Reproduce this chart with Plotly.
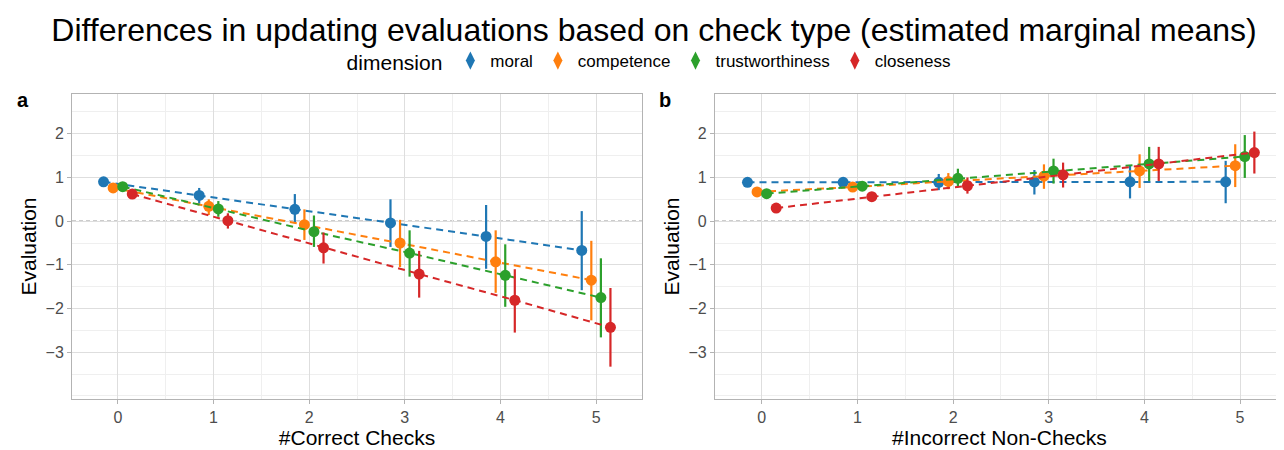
import plotly.graph_objects as go

# ---------------- data ----------------
dimensions = ["moral", "competence", "trustworthiness", "closeness"]
colors = ["#1f77b4", "#ff7f0e", "#2ca02c", "#d62728"]
counts = [0, 1, 2, 3, 4, 5]
dodge = [-0.15, -0.05, 0.05, 0.15]

# panel a: #Correct Checks
a_moral = [0.90, 0.59, 0.27, -0.04, -0.35, -0.67]
a_moral_lo = [0.84, 0.40, -0.05, -0.59, -1.09, -1.58]
a_moral_hi = [0.96, 0.76, 0.62, 0.50, 0.37, 0.23]
a_comp = [0.76, 0.34, -0.08, -0.50, -0.93, -1.35]
a_comp_lo = [0.70, 0.14, -0.43, -1.05, -1.64, -2.27]
a_comp_hi = [0.82, 0.50, 0.27, 0.03, -0.21, -0.45]
a_trust = [0.79, 0.28, -0.24, -0.73, -1.24, -1.75]
a_trust_lo = [0.73, 0.10, -0.59, -1.27, -1.96, -2.66]
a_trust_hi = [0.85, 0.46, 0.13, -0.21, -0.53, -0.85]
a_close = [0.62, 0.01, -0.61, -1.21, -1.81, -2.43]
a_close_lo = [0.56, -0.17, -0.97, -1.75, -2.55, -3.33]
a_close_hi = [0.68, 0.18, -0.26, -0.68, -1.10, -1.53]

# panel b: #Incorrect Non-Checks
b_moral = [0.89, 0.89, 0.89, 0.90, 0.90, 0.90]
b_moral_lo = [0.83, 0.81, 0.71, 0.61, 0.52, 0.41]
b_moral_hi = [0.95, 0.97, 1.08, 1.17, 1.28, 1.38]
b_comp = [0.67, 0.78, 0.91, 1.03, 1.15, 1.27]
b_comp_lo = [0.61, 0.71, 0.73, 0.74, 0.76, 0.78]
b_comp_hi = [0.73, 0.85, 1.10, 1.30, 1.53, 1.76]
b_trust = [0.63, 0.80, 0.98, 1.15, 1.31, 1.48]
b_trust_lo = [0.57, 0.73, 0.79, 0.86, 0.92, 0.99]
b_trust_hi = [0.69, 0.87, 1.20, 1.43, 1.70, 1.97]
b_close = [0.30, 0.56, 0.81, 1.06, 1.31, 1.57]
b_close_lo = [0.24, 0.49, 0.63, 0.77, 0.92, 1.09]
b_close_hi = [0.36, 0.63, 1.00, 1.34, 1.70, 2.05]

panel_a = [(a_moral, a_moral_lo, a_moral_hi), (a_comp, a_comp_lo, a_comp_hi),
           (a_trust, a_trust_lo, a_trust_hi), (a_close, a_close_lo, a_close_hi)]
panel_b = [(b_moral, b_moral_lo, b_moral_hi), (b_comp, b_comp_lo, b_comp_hi),
           (b_trust, b_trust_lo, b_trust_hi), (b_close, b_close_lo, b_close_hi)]

y_ticks = [-3, -2, -1, 0, 1, 2]
x_ticks = [0, 1, 2, 3, 4, 5]

FONT = "Liberation Sans, Arial, sans-serif"

fig = go.Figure()

for panel_idx, (panel, xa, ya) in enumerate([(panel_a, "x", "y"), (panel_b, "x2", "y2")]):
    for i, (vals, lo, hi) in enumerate(panel):
        xs = [c + dodge[i] for c in counts]
        fig.add_trace(go.Scatter(
            x=xs, y=vals, xaxis=xa, yaxis=ya,
            mode="lines+markers",
            name=dimensions[i],
            legendgroup=dimensions[i],
            showlegend=False,
            line=dict(color=colors[i], width=2, dash="7px,5px"),
            marker=dict(color=colors[i], size=11),
            error_y=dict(type="data", symmetric=False,
                         array=[h - v for h, v in zip(hi, vals)],
                         arrayminus=[v - l for v, l in zip(vals, lo)],
                         color=colors[i], thickness=2.2, width=0),
        ))

# legend-only entries (point-range style key)
for i, d in enumerate(dimensions):
    fig.add_trace(go.Scatter(
        x=[None], y=[None], mode="markers", name=d, legendgroup=d,
        marker=dict(color=colors[i], size=13, symbol="diamond-tall"),
        showlegend=True,
    ))

axis_common = dict(
    showline=True, linecolor="#b3b3b3", linewidth=1, mirror=True,
    showgrid=True, gridcolor="#dedede", gridwidth=1,
    zeroline=False, automargin=False,
    ticks="outside", ticklen=4, tickcolor="#b3b3b3",
    tickfont=dict(family=FONT, size=16, color="#4d4d4d"),
    minor=dict(showgrid=True, gridcolor="#efefef", gridwidth=1, dtick=0.5, tick0=0),
)

xrange = [-0.48, 5.48]
yrange = [-4.07, 2.91]
title_font = dict(family=FONT, size=21, color="black")

# page body has an 8px default margin: figure is sized/positioned to compensate
W, H = 1276, 442

fig.update_layout(
    width=W, height=H,
    margin=dict(l=64, r=0, t=86, b=51, autoexpand=False),
    paper_bgcolor="white", plot_bgcolor="white",
    font=dict(family=FONT, color="black"),
    title=dict(text="Differences in updating evaluations based on check type (estimated marginal means)",
               x=646 / W, xanchor="center", y=1 - 22 / H, yanchor="middle",
               font=dict(family=FONT, size=32, color="black")),
    legend=dict(orientation="h", x=0.477, xanchor="center", y=1.105, yanchor="middle",
                title=dict(text="dimension", font=dict(family=FONT, size=21)),
                font=dict(family=FONT, size=17), itemwidth=30,
                bgcolor="rgba(0,0,0,0)"),
    xaxis=dict(domain=[0, 0.4703], range=xrange, tickvals=x_ticks,
               title=dict(text="#Correct Checks", font=title_font, standoff=4),
               **axis_common),
    yaxis=dict(domain=[0, 1], range=yrange, tickvals=y_ticks,
               title=dict(text="Evaluation", font=title_font, standoff=3),
               **axis_common),
    xaxis2=dict(domain=[0.5305, 1], range=[-0.49, 5.46], tickvals=x_ticks, anchor="y2",
                title=dict(text="#Incorrect Non-Checks", font=title_font, standoff=4),
                **axis_common),
    yaxis2=dict(domain=[0, 1], range=yrange, tickvals=y_ticks, anchor="x2",
                title=dict(text="Evaluation", font=title_font, standoff=3),
                **axis_common),
)

for xd, yr in [("x domain", "y"), ("x2 domain", "y2")]:
    fig.add_shape(type="line", xref=xd, yref=yr, x0=0, x1=1, y0=0, y1=0,
                  line=dict(color="#9a9a9a", width=1.3, dash="4px,3px"), layer="below")

fig.add_annotation(text="<b>a</b>", xref="paper", yref="paper", x=(22.5 - 72) / 1212, y=0.98,
                   xanchor="center", yanchor="middle", showarrow=False,
                   font=dict(family=FONT, size=20, color="black"))
fig.add_annotation(text="<b>b</b>", xref="paper", yref="paper", x=(665 - 72) / 1212, y=0.98,
                   xanchor="center", yanchor="middle", showarrow=False,
                   font=dict(family=FONT, size=20, color="black"))

fig.write_html("out.html")
